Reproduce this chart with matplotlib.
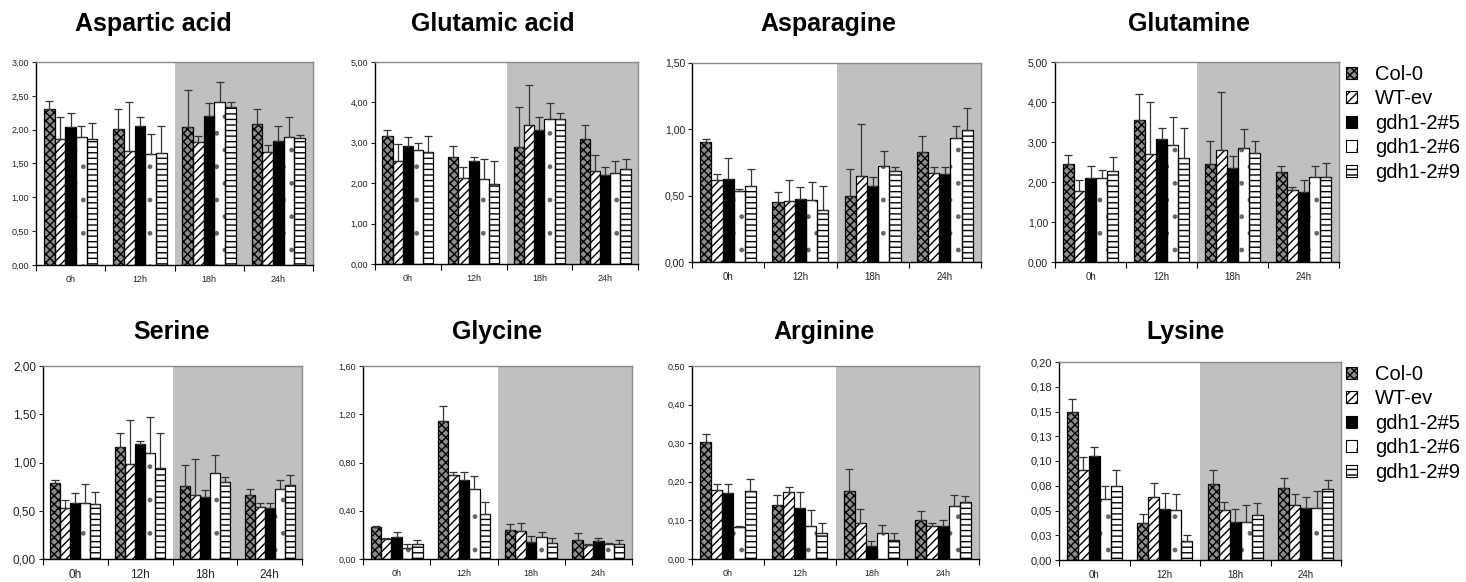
import matplotlib
matplotlib.use('Agg')
import matplotlib.pyplot as plt
from matplotlib.patches import Patch
from matplotlib import font_manager
import numpy as np

# ---------------- data ----------------
times = ['0h', '12h', '18h', '24h']
lines = ['Col-0', 'WT-ev', 'gdh1-2#5', 'gdh1-2#6', 'gdh1-2#9']

# rows = time points, columns = lines
asp_mean = [[2.31, 1.86, 2.04, 1.89, 1.86], [2.01, 1.68, 2.05, 1.64, 1.65],
            [2.04, 1.82, 2.20, 2.41, 2.33], [2.08, 1.67, 1.83, 1.89, 1.88]]
asp_err = [[0.11, 0.32, 0.20, 0.16, 0.24], [0.29, 0.73, 0.14, 0.29, 0.40],
           [0.55, 0.08, 0.19, 0.30, 0.08], [0.22, 0.11, 0.23, 0.29, 0.04]]

glu_mean = [[3.16, 2.54, 2.93, 2.82, 2.76], [2.66, 2.13, 2.54, 2.10, 1.99],
            [2.89, 3.43, 3.31, 3.58, 3.60], [3.10, 2.31, 2.21, 2.26, 2.36]]
glu_err = [[0.16, 0.43, 0.22, 0.18, 0.41], [0.27, 0.28, 0.10, 0.51, 0.56],
           [0.99, 1.01, 0.33, 0.40, 0.14], [0.35, 0.38, 0.18, 0.29, 0.24]]

asn_mean = [[0.905, 0.618, 0.628, 0.535, 0.575], [0.452, 0.46, 0.472, 0.465, 0.394],
            [0.497, 0.646, 0.575, 0.721, 0.683], [0.829, 0.673, 0.666, 0.937, 0.997]]
asn_err = [[0.022, 0.045, 0.153, 0.018, 0.125], [0.073, 0.156, 0.091, 0.138, 0.179],
           [0.207, 0.392, 0.065, 0.113, 0.031], [0.118, 0.041, 0.048, 0.088, 0.166]]

gln_mean = [[2.44, 1.78, 2.10, 2.09, 2.28], [3.56, 2.70, 3.07, 2.92, 2.61],
            [2.44, 2.79, 2.34, 2.84, 2.72], [2.24, 1.79, 1.75, 2.12, 2.13]]
gln_err = [[0.23, 0.26, 0.31, 0.22, 0.34], [0.63, 1.29, 0.29, 0.71, 0.75],
           [0.59, 1.45, 0.32, 0.48, 0.31], [0.17, 0.08, 0.31, 0.29, 0.34]]

ser_mean = [[0.79, 0.53, 0.58, 0.58, 0.57], [1.16, 0.98, 1.19, 1.10, 0.94],
            [0.76, 0.66, 0.64, 0.89, 0.80], [0.66, 0.54, 0.53, 0.73, 0.77]]
ser_err = [[0.03, 0.08, 0.10, 0.20, 0.12], [0.15, 0.46, 0.03, 0.37, 0.37],
           [0.21, 0.38, 0.08, 0.19, 0.05], [0.07, 0.04, 0.05, 0.09, 0.10]]

gly_mean = [[0.265, 0.165, 0.18, 0.09, 0.125], [1.145, 0.695, 0.657, 0.582, 0.372],
            [0.243, 0.234, 0.143, 0.18, 0.132], [0.155, 0.12, 0.152, 0.127, 0.124]]
gly_err = [[0.01, 0.01, 0.045, 0.035, 0.035], [0.125, 0.03, 0.068, 0.108, 0.10],
           [0.047, 0.061, 0.045, 0.043, 0.038], [0.057, 0.005, 0.025, 0.005, 0.03]]

arg_mean = [[0.304, 0.18, 0.172, 0.082, 0.175], [0.141, 0.174, 0.132, 0.086, 0.068],
            [0.176, 0.092, 0.033, 0.067, 0.048], [0.102, 0.085, 0.085, 0.138, 0.148]]
arg_err = [[0.019, 0.015, 0.023, 0.004, 0.032], [0.026, 0.013, 0.041, 0.04, 0.024],
           [0.057, 0.037, 0.014, 0.022, 0.02], [0.022, 0.009, 0.015, 0.029, 0.016]]

lys_mean = [[0.149, 0.091, 0.105, 0.062, 0.075], [0.037, 0.064, 0.052, 0.051, 0.019],
            [0.077, 0.051, 0.038, 0.038, 0.045], [0.073, 0.056, 0.053, 0.053, 0.072]]
lys_err = [[0.014, 0.013, 0.009, 0.013, 0.016], [0.009, 0.014, 0.016, 0.016, 0.006],
           [0.014, 0.008, 0.014, 0.018, 0.013], [0.010, 0.011, 0.011, 0.017, 0.009]]

lys_ticks = [0, 0.025, 0.05, 0.075, 0.10, 0.125, 0.15, 0.175, 0.20]
lys_ticklabels = ['0,00', '0,03', '0,05', '0,08', '0,10', '0,13', '0,15', '0,18', '0,20']

# ---------------- styles ----------------
avail = {f.name for f in font_manager.fontManager.ttflist}
REG = 'Liberation Sans' if 'Liberation Sans' in avail else 'DejaVu Sans'
NARROW = 'Liberation Sans Narrow' if 'Liberation Sans Narrow' in avail else REG

# facecolor, hatch, hatch colour
styles = [
    dict(facecolor='#8c8c8c', hatch='xxxx', hc='black'),
    dict(facecolor='white', hatch='////', hc='black'),
    dict(facecolor='black', hatch=None, hc='black'),
    dict(facecolor='white', hatch='.', hc='#666666'),
    dict(facecolor='white', hatch='---', hc='black'),
]
plt.rcParams['hatch.linewidth'] = 1.0

W, H = 1466, 582
fig = plt.figure(figsize=(W / 100, H / 100), dpi=100)

def fmt(v):
    return f'{v:.2f}'.replace('.', ',')

panels = [
    # title, mean, err, ymax, step, (x0, y0, x1, y1) px, ytick size, xtick size, narrow, title center
    ('Aspartic acid', asp_mean, asp_err, 3.0, 0.5, (36, 62, 313, 265), 6.5, 6.5, True, (153, 24)),
    ('Glutamic acid', glu_mean, glu_err, 5.0, 1.0, (375, 62, 638, 264), 6.5, 6.5, True, (493, 24)),
    ('Asparagine', asn_mean, asn_err, 1.5, 0.5, (692, 63, 981, 262), 7.5, 7.0, False, (828, 24)),
    ('Glutamine', gln_mean, gln_err, 5.0, 1.0, (1055, 62, 1339, 262), 7.5, 7.0, False, (1189, 24)),
    ('Serine', ser_mean, ser_err, 2.0, 0.5, (43, 366, 302, 559), 8.5, 8.5, False, (172, 332)),
    ('Glycine', gly_mean, gly_err, 1.6, 0.4, (363, 366, 632, 559), 6.5, 6.5, True, (497, 332)),
    ('Arginine', arg_mean, arg_err, 0.5, 0.1, (692, 366, 979, 559), 6.5, 6.5, True, (824, 332)),
    ('Lysine', lys_mean, lys_err, 0.2, None, (1059, 362, 1341, 560), 8.0, 7.0, False, (1186, 332)),
]

bw = 0.155
x = np.arange(len(times))

for (title, mean, err, ymax, step, (x0, y0, x1, y1), ys, xs, narrow, (tx, ty)) in panels:
    ax = fig.add_axes([x0 / W, 1 - y1 / H, (x1 - x0) / W, (y1 - y0) / H])
    ax.set_facecolor('white')
    ax.axvspan(1.5, 3.5, color='#c0c0c0', zorder=0, lw=0)
    m = np.array(mean)
    e = np.array(err)
    for j in range(len(lines)):
        xpos = x + (j - 2) * bw
        st = styles[j]
        ax.bar(xpos, m[:, j], width=bw, facecolor=st['facecolor'], hatch=st['hatch'],
               edgecolor=st['hc'], linewidth=0, zorder=2)
        ax.bar(xpos, m[:, j], width=bw, fill=False, edgecolor='black', linewidth=0.9, zorder=2.5)
        ax.errorbar(xpos, m[:, j], yerr=[np.zeros(len(times)), e[:, j]], fmt='none',
                    ecolor='#333333', elinewidth=0.9, capsize=3, capthick=0.9, zorder=3)
    ax.set_xlim(-0.5, 3.5)
    ax.set_ylim(0, ymax)
    fam = NARROW if narrow else REG
    if step is None:
        ax.set_yticks(lys_ticks)
        ax.set_yticklabels(lys_ticklabels)
    else:
        ticks = np.arange(0, ymax + step / 2, step)
        ax.set_yticks(ticks)
        ax.set_yticklabels([fmt(t) for t in ticks])
    ax.set_xticks(x)
    ax.set_xticklabels(times)
    ax.set_xticks([-0.5, 0.5, 1.5, 2.5, 3.5], minor=True)
    ax.tick_params(axis='x', which='major', length=0, pad=7, labelsize=xs, colors='#222222')
    ax.tick_params(axis='x', which='minor', length=4, direction='out', width=0.8)
    ax.tick_params(axis='y', length=3, direction='out', width=0.8, labelsize=ys, pad=2,
                   colors='#222222')
    for lab in ax.get_xticklabels() + ax.get_yticklabels():
        lab.set_family(fam)
    for s in ('top', 'right'):
        ax.spines[s].set_color('#8a8a8a')
        ax.spines[s].set_linewidth(1.0)
    for s in ('left', 'bottom'):
        ax.spines[s].set_color('black')
        ax.spines[s].set_linewidth(1.0)
    fig.text(tx / W, 1 - ty / H, title, ha='center', va='center', fontsize=18,
             fontweight='bold', family=REG)

handles = [(Patch(facecolor=st['facecolor'], hatch=st['hatch'], edgecolor=st['hc'], linewidth=0),
            Patch(fill=False, edgecolor='black', linewidth=0.8))
           for st in styles]
for ytop in (65, 365):
    fig.legend(handles, lines, loc='upper left', bbox_to_anchor=(1346 / W, 1 - ytop / H),
               frameon=False, prop={'family': REG, 'size': 14.5}, handlelength=0.55,
               handleheight=0.55, handletextpad=0.9, labelspacing=0.27, borderaxespad=0,
               borderpad=0)

fig.savefig('out.png', dpi=100)
